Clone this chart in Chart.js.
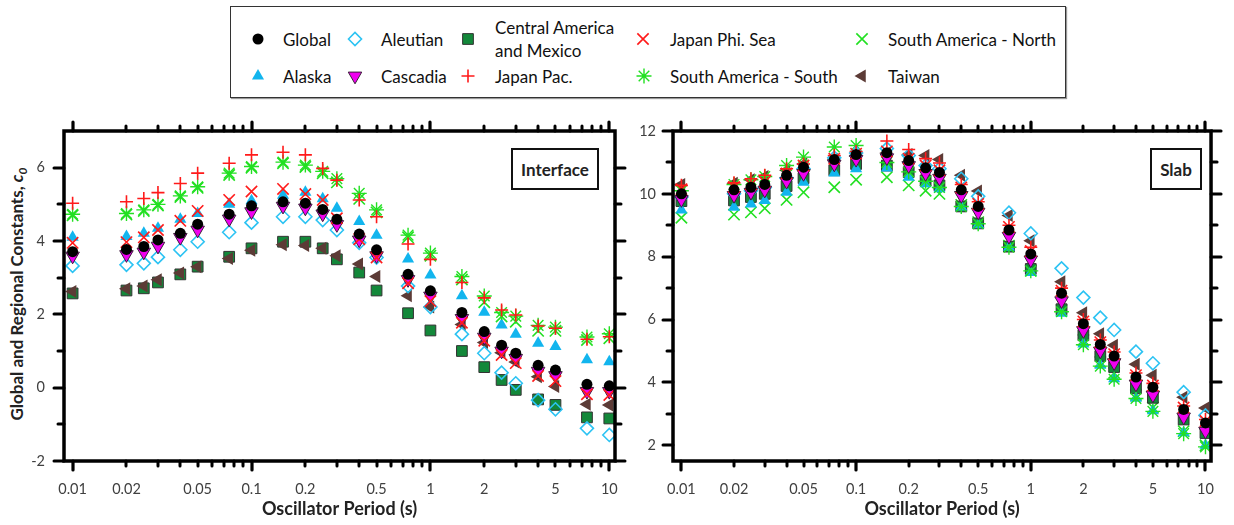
<!DOCTYPE html>
<html>
<head>
<meta charset="utf-8">
<script src="https://cdn.jsdelivr.net/npm/chart.js@4.4.1/dist/chart.umd.min.js"></script>
<style>
  html, body { margin: 0; padding: 0; background: #fff; }
  #wrap { position: relative; width: 1234px; height: 525px; overflow: hidden; font-family: Lato, "Open Sans", sans-serif; }
  .cv { position: absolute; }
  #legend { position: absolute; left: 230px; top: 6px; width: 834px; height: 90px; border: 1.5px solid #333; box-shadow: 1px 1px 1px #999; }
  .li { position: absolute; font-size: 17px; color: #111; white-space: nowrap; line-height: 23px; transform: translateY(-50%); }
  .lm { position: absolute; width: 24px; height: 24px; }
  #ylab { position: absolute; left: 18px; top: 294px; transform: translate(-50%, -50%) rotate(-90deg); font-weight: bold; font-size: 17px; color: #222; white-space: nowrap; }
  #ylab sub { font-size: 12px; }
  .tag { position: absolute; border: 2px solid #111; box-sizing: border-box; font-weight: bold; font-size: 17px; color: #222; display: flex; align-items: center; justify-content: center; background: #fff; }
</style>
</head>
<body>
<div id="wrap">
  <div id="legend"></div>
  <div id="ylab">Global and Regional Constants, <i>c</i><sub><i>0</i></sub></div>
  <div class="cv" style="left:0px;top:100px;width:640px;height:425px"><canvas id="c1"></canvas></div>
  <div class="cv" style="left:620px;top:100px;width:614px;height:425px"><canvas id="c2"></canvas></div>
  <div class="tag" style="left:511px;top:148px;width:88px;height:42px">Interface</div>
  <div class="tag" style="left:1150px;top:148px;width:52px;height:42px">Slab</div>
</div>
<script>
// ---------------- DATA ----------------
const periods = [0.01, 0.02, 0.025, 0.03, 0.04, 0.05, 0.075, 0.1, 0.15, 0.2, 0.25, 0.3, 0.4, 0.5, 0.75, 1, 1.5, 2, 2.5, 3, 4, 5, 7.5, 10];

// Interface panel
const ifGlobal   = [3.71, 3.77, 3.85, 4.03, 4.21, 4.46, 4.73, 4.96, 5.07, 5.03, 4.86, 4.59, 4.19, 3.76, 3.09, 2.64, 2.05, 1.53, 1.16, 0.94, 0.61, 0.48, 0.09, 0.05];
const ifAlaska   = [4.10, 4.12, 4.21, 4.35, 4.59, 4.75, 5.00, 5.10, 5.25, 5.33, 5.15, 4.89, 4.53, 4.16, 3.51, 3.07, 2.51, 2.06, 1.71, 1.46, 1.21, 1.12, 0.76, 0.71];
const ifAleutian = [3.32, 3.35, 3.39, 3.56, 3.76, 3.98, 4.24, 4.50, 4.66, 4.66, 4.57, 4.30, 3.95, 3.55, 2.77, 2.20, 1.46, 0.94, 0.41, 0.12, -0.34, -0.59, -1.11, -1.29];
const ifCascadia = [3.59, 3.63, 3.70, 3.86, 4.10, 4.30, 4.60, 4.80, 4.95, 4.90, 4.74, 4.45, 4.03, 3.60, 2.95, 2.50, 1.89, 1.38, 1.00, 0.80, 0.45, 0.33, -0.10, -0.10];
const ifCAM      = [2.57, 2.65, 2.71, 2.87, 3.09, 3.30, 3.57, 3.80, 3.98, 3.98, 3.80, 3.50, 3.14, 2.65, 2.03, 1.56, 1.00, 0.56, 0.21, -0.06, -0.32, -0.47, -0.81, -0.84];
const ifJapanPac = [5.03, 5.07, 5.16, 5.32, 5.57, 5.85, 6.12, 6.35, 6.42, 6.35, 5.98, 5.66, 5.12, 4.66, 3.92, 3.50, 2.87, 2.45, 2.12, 1.98, 1.68, 1.62, 1.32, 1.39];
const ifJapanPhi = [3.95, 3.97, 4.10, 4.30, 4.55, 4.82, 5.12, 5.35, 5.42, 5.28, 5.12, 4.62, 4.05, 3.55, 2.85, 2.36, 1.77, 1.28, 0.89, 0.67, 0.32, 0.18, -0.18, -0.20];
const ifSASouth  = [4.73, 4.75, 4.85, 5.00, 5.23, 5.48, 5.85, 6.03, 6.15, 6.07, 5.90, 5.70, 5.30, 4.85, 4.16, 3.67, 3.03, 2.50, 2.05, 1.95, 1.70, 1.65, 1.38, 1.47];
const ifSANorth  = [4.70, 4.72, 4.82, 4.97, 5.20, 5.45, 5.80, 6.00, 6.12, 6.02, 5.85, 5.60, 5.15, 4.78, 4.10, 3.60, 2.95, 2.33, 1.94, 1.80, 1.55, 1.55, 1.30, 1.35];
const ifTaiwan   = [2.62, 2.70, 2.77, 2.94, 3.13, 3.30, 3.52, 3.75, 3.90, 3.88, 3.80, 3.60, 3.37, 3.03, 2.51, 2.20, 1.72, 1.23, 0.95, 0.70, 0.30, 0.03, -0.45, -0.47];

// Slab panel
const slGlobal   = [10.00, 10.13, 10.21, 10.30, 10.59, 10.85, 11.09, 11.25, 11.31, 11.06, 10.83, 10.68, 10.13, 9.60, 8.85, 8.09, 6.84, 5.87, 5.21, 4.84, 4.17, 3.85, 3.14, 2.71];
const slAlaska   = [9.49, 9.57, 9.68, 9.79, 10.05, 10.37, 10.66, 10.80, 10.82, 10.53, 10.32, 10.16, 9.58, 9.02, 8.30, 7.50, 6.20, 5.22, 4.55, 4.12, 3.50, 3.10, 2.40, 2.00];
const slAleutian = [9.90, 10.00, 10.10, 10.20, 10.50, 10.80, 11.15, 11.30, 11.44, 11.22, 10.90, 10.80, 10.48, 9.92, 9.40, 8.74, 7.63, 6.70, 6.06, 5.67, 4.98, 4.61, 3.69, 2.95];
const slCascadia = [9.82, 9.95, 10.05, 10.12, 10.40, 10.65, 10.95, 11.10, 11.15, 10.90, 10.65, 10.50, 9.95, 9.42, 8.65, 7.90, 6.60, 5.65, 5.00, 4.63, 3.95, 3.60, 2.90, 2.45];
const slCAM      = [9.77, 9.79, 9.90, 10.00, 10.25, 10.50, 10.75, 10.95, 10.90, 10.69, 10.43, 10.27, 9.60, 9.06, 8.32, 7.61, 6.33, 5.50, 4.84, 4.49, 3.81, 3.51, 2.82, 2.39];
const slJapanPac = [10.27, 10.35, 10.48, 10.59, 10.80, 10.95, 11.22, 11.35, 11.68, 11.41, 11.12, 10.98, 10.30, 9.75, 9.00, 8.30, 7.00, 6.00, 5.35, 4.97, 4.30, 3.97, 3.25, 2.82];
const slJapanPhi = [10.15, 10.22, 10.30, 10.38, 10.65, 10.90, 11.12, 11.28, 11.35, 11.12, 10.90, 10.75, 10.20, 9.68, 8.95, 8.18, 6.92, 5.94, 5.28, 4.90, 4.23, 3.90, 3.20, 2.77];
const slSASouth  = [10.10, 10.30, 10.45, 10.55, 10.90, 11.17, 11.49, 11.54, 11.00, 10.70, 10.40, 10.20, 9.60, 9.05, 8.30, 7.55, 6.25, 5.20, 4.52, 4.10, 3.49, 3.08, 2.37, 1.95];
const slSANorth  = [9.24, 9.34, 9.41, 9.54, 9.81, 10.05, 10.21, 10.45, 10.53, 10.27, 10.10, 10.00, 9.65, 9.10, 8.35, 7.55, 6.30, 5.35, 4.65, 4.30, 3.60, 3.20, 2.45, 2.00];
const slTaiwan   = [10.30, 10.34, 10.45, 10.55, 10.75, 10.95, 11.10, 11.20, 11.30, 11.25, 11.22, 11.09, 10.59, 10.09, 9.31, 8.51, 7.20, 6.22, 5.55, 5.18, 4.58, 4.23, 3.53, 3.19];

// Tick labels / tick positions
const xLabelTicks = [0.01, 0.02, 0.05, 0.1, 0.2, 0.5, 1, 2, 5, 10];
const xMajorTicks = [0.01, 0.1, 1, 10];
const xMinorTicks = [0.02, 0.03, 0.04, 0.05, 0.06, 0.07, 0.08, 0.09, 0.2, 0.3, 0.4, 0.5, 0.6, 0.7, 0.8, 0.9, 2, 3, 4, 5, 6, 7, 8, 9];
const ifYLabels = [-2, 0, 2, 4, 6];
const ifYMinor  = [-1, 1, 3, 5];
const slYLabels = [2, 4, 6, 8, 10, 12];
const slYMinor  = [3, 5, 7, 9, 11];

// ---------------- STYLES ----------------
const styles = {
  global:   { label: 'Global', pointStyle: 'circle', radius: 5.5, backgroundColor: '#000', borderColor: '#000', borderWidth: 0, rotation: 0 },
  alaska:   { label: 'Alaska', pointStyle: 'triangle', radius: 7, backgroundColor: '#12B5EE', borderColor: '#12B5EE', borderWidth: 0, rotation: 0 },
  aleutian: { label: 'Aleutian', pointStyle: 'rectRot', radius: 6.5, backgroundColor: 'rgba(255,255,255,0)', borderColor: '#2CC3F3', borderWidth: 1.6, rotation: 0 },
  cascadia: { label: 'Cascadia', pointStyle: 'triangle', radius: 7.8, backgroundColor: '#F000F0', borderColor: '#3A2038', borderWidth: 1, rotation: 180 },
  cam:      { label: 'Central America and Mexico', pointStyle: 'rect', radius: 7.6, backgroundColor: '#13883A', borderColor: '#333', borderWidth: 1, rotation: 0 },
  japanPac: { label: 'Japan Pac.', pointStyle: 'cross', radius: 6.5, backgroundColor: '#FF1A1A', borderColor: '#FF1A1A', borderWidth: 1.6, rotation: 0 },
  japanPhi: { label: 'Japan Phi. Sea', pointStyle: 'crossRot', radius: 8, backgroundColor: '#FF1A1A', borderColor: '#FF1A1A', borderWidth: 1.6, rotation: 0 },
  saSouth:  { label: 'South America - South', pointStyle: 'star', radius: 7.5, backgroundColor: '#22E022', borderColor: '#22E022', borderWidth: 1.4, rotation: 0 },
  saNorth:  { label: 'South America - North', pointStyle: 'crossRot', radius: 8, backgroundColor: '#22E022', borderColor: '#22E022', borderWidth: 1.6, rotation: 0 },
  taiwan:   { label: 'Taiwan', pointStyle: 'triangle', radius: 7.5, backgroundColor: '#5C3B36', borderColor: '#5C3B36', borderWidth: 0, rotation: 270 }
};

// drawing order: first = on top
const drawOrder = ['global', 'japanPac', 'japanPhi', 'cascadia', 'aleutian', 'saSouth', 'alaska', 'taiwan', 'cam', 'saNorth'];

const ifSeries = { global: ifGlobal, alaska: ifAlaska, aleutian: ifAleutian, cascadia: ifCascadia, cam: ifCAM, japanPac: ifJapanPac, japanPhi: ifJapanPhi, saSouth: ifSASouth, saNorth: ifSANorth, taiwan: ifTaiwan };
const slSeries = { global: slGlobal, alaska: slAlaska, aleutian: slAleutian, cascadia: slCascadia, cam: slCAM, japanPac: slJapanPac, japanPhi: slJapanPhi, saSouth: slSASouth, saNorth: slSANorth, taiwan: slTaiwan };

function buildDatasets(series) {
  return drawOrder.map(k => {
    const s = styles[k];
    return {
      label: s.label,
      data: periods.map((p, i) => ({ x: p, y: series[k][i] })),
      showLine: false,
      pointStyle: s.pointStyle,
      pointRadius: s.radius,
      pointHoverRadius: s.radius,
      pointRotation: s.rotation,
      pointBackgroundColor: s.backgroundColor,
      pointBorderColor: s.borderColor,
      pointBorderWidth: s.borderWidth,
      backgroundColor: s.backgroundColor,
      borderColor: s.borderColor
    };
  });
}

// ---------------- FRAME PLUGIN ----------------
const framePlugin = {
  id: 'frame',
  afterDatasetsDraw(chart) {
    const o = chart.options.plugins.frame;
    const { ctx, chartArea: a } = chart;
    const xs = chart.scales.x, ys = chart.scales.y;
    ctx.save();
    ctx.strokeStyle = '#000';
    ctx.lineCap = 'round';
    const seg = (x1, y1, x2, y2) => { ctx.beginPath(); ctx.moveTo(x1, y1); ctx.lineTo(x2, y2); ctx.stroke(); };
    const xt = (vals, len, lw) => {
      ctx.lineWidth = lw;
      vals.forEach(v => {
        const px = Math.round(xs.getPixelForValue(v));
        seg(px, a.bottom, px, a.bottom + len);
        seg(px, a.top, px, a.top - len);
      });
    };
    const yt = (vals, len, lw) => {
      ctx.lineWidth = lw;
      vals.forEach(v => {
        const py = Math.round(ys.getPixelForValue(v));
        seg(a.left, py, a.left - len, py);
        seg(a.right, py, a.right + len, py);
      });
    };
    xt(xMinorTicks, 5, 3);
    xt(xMajorTicks, 9, 3.2);
    yt(o.yMinor, 6, 3);
    yt(o.yMajor, 10, 3);
    ctx.lineCap = 'butt';
    ctx.lineWidth = 3.5;
    ctx.strokeRect(a.left, a.top, a.right - a.left, a.bottom - a.top);
    ctx.restore();
  }
};

function makeChart(id, series, yMin, yMax, yLabels, yMinor, yAxisWidth, yPad, padRight) {
  return new Chart(document.getElementById(id), {
    type: 'scatter',
    data: { datasets: buildDatasets(series) },
    plugins: [framePlugin],
    options: {
      responsive: true,
      maintainAspectRatio: false,
      animation: false,
      devicePixelRatio: 1,
      layout: { padding: { left: 0, right: padRight, top: 31, bottom: 0 } },
      plugins: {
        legend: { display: false },
        tooltip: { enabled: false },
        frame: { yMajor: yLabels, yMinor: yMinor }
      },
      scales: {
        x: {
          type: 'logarithmic',
          min: 0.00895,
          max: 10.76,
          grid: { display: false, drawTicks: false },
          border: { display: false },
          afterBuildTicks: s => { s.ticks = xLabelTicks.map(v => ({ value: v })); },
          afterFit: s => { s.height = 64; },
          ticks: {
            autoSkip: false, maxRotation: 0, minRotation: 0, padding: 20,
            color: '#404040', font: { family: 'Lato', size: 14.5 },
            callback: v => String(v)
          },
          title: {
            display: true, text: 'Oscillator Period (s)', color: '#222',
            font: { family: 'Lato', size: 18, weight: 'bold' },
            padding: { top: 0, bottom: 5 }
          }
        },
        y: {
          type: 'linear',
          min: yMin,
          max: yMax,
          grid: { display: false, drawTicks: false },
          border: { display: false },
          afterBuildTicks: s => { s.ticks = yLabels.map(v => ({ value: v })); },
          afterFit: s => { s.width = yAxisWidth; },
          ticks: {
            autoSkip: false, padding: yPad,
            color: '#404040', font: { family: 'Lato', size: 14.5 },
            callback: v => String(v)
          }
        }
      }
    }
  });
}

makeChart('c1', ifSeries, -2, 7, ifYLabels, ifYMinor, 64, 19, 25);
makeChart('c2', slSeries, 1.5, 12, slYLabels, slYMinor, 53, 17, 11);

// ---------------- LEGEND (HTML) ----------------
const legendLayout = [
  { key: 'global',   mx: 258, tx: 283, y: 39 },
  { key: 'aleutian', mx: 355, tx: 381, y: 39 },
  { key: 'cam',      mx: 468, tx: 495, y: 39, html: 'Central America<br>and Mexico' },
  { key: 'japanPhi', mx: 643, tx: 670, y: 39 },
  { key: 'saNorth',  mx: 862, tx: 888, y: 39 },
  { key: 'alaska',   mx: 258, tx: 283, y: 76 },
  { key: 'cascadia', mx: 355, tx: 381, y: 76 },
  { key: 'japanPac', mx: 468, tx: 495, y: 76 },
  { key: 'saSouth',  mx: 644, tx: 670, y: 76 },
  { key: 'taiwan',   mx: 862, tx: 888, y: 76 }
];
const wrap = document.getElementById('wrap');
legendLayout.forEach(it => {
  const s = styles[it.key];
  const c = document.createElement('canvas');
  c.width = 24; c.height = 24;
  c.className = 'lm';
  c.style.left = (it.mx - 12) + 'px';
  c.style.top = (it.y - 12) + 'px';
  wrap.appendChild(c);
  const ctx = c.getContext('2d');
  ctx.fillStyle = s.backgroundColor;
  ctx.strokeStyle = s.borderColor;
  ctx.lineWidth = s.borderWidth;
  if (Chart.helpers && Chart.helpers.drawPoint) {
    Chart.helpers.drawPoint(ctx, { pointStyle: s.pointStyle, rotation: s.rotation, radius: s.radius, borderWidth: s.borderWidth }, 12, 12);
  }
  const t = document.createElement('div');
  t.className = 'li';
  t.style.left = it.tx + 'px';
  t.style.top = it.y + 'px';
  if (it.html) t.innerHTML = it.html; else t.textContent = s.label;
  wrap.appendChild(t);
});
</script>
</body>
</html>
